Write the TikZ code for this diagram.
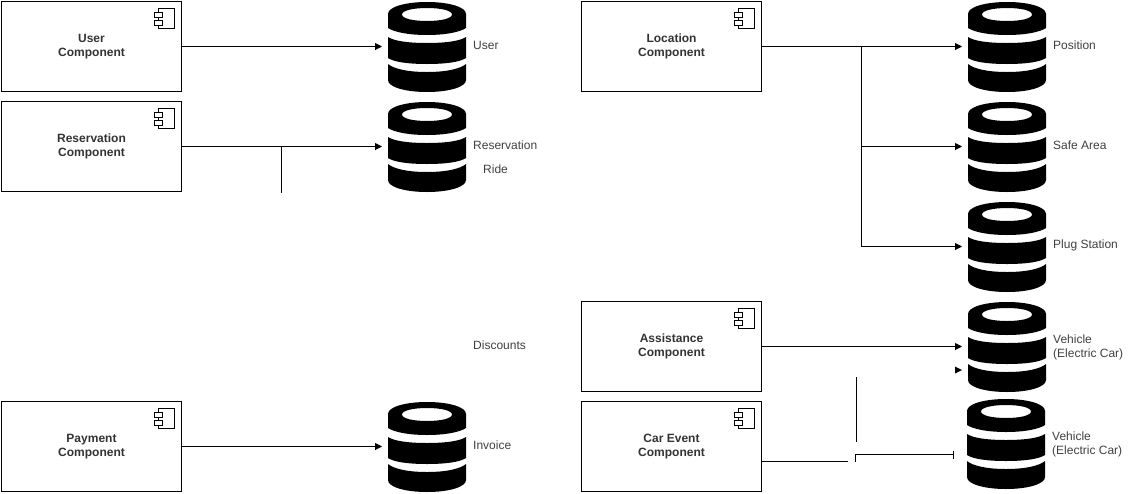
\documentclass[tikz,border=0pt]{standalone}
\usepackage{fontspec}
\setmainfont{Liberation Sans}
\usetikzlibrary{arrows.meta}
\tikzset{
  x=1pt,y=-1pt,
  compbox/.style={draw=black,line width=1pt,fill=white,minimum width=180pt,minimum height=90pt,inner sep=0pt,outer sep=0pt,
    font=\fontsize{12}{14}\selectfont\bfseries,text=black!80,align=center},
  dbtext/.style={font=\fontsize{12}{14}\selectfont,text=black!75,align=left,anchor=west,inner sep=0pt},
  conn/.style={line width=1pt,draw=black},
  arrowconn/.style={conn,-{Triangle[length=7pt,width=7pt]},shorten >=6pt},
  pics/dbicon/.style={code={
    \node[inner sep=0pt,outer sep=0pt,minimum width=78pt,minimum height=90pt] (-box) at (39,45) {};
    \fill[black,even odd rule] (0,12) .. controls (0,5) and (17,0) .. (39,0) .. controls (61,0) and (78,5) .. (78,12)
      -- (78,26) .. controls (72,30) and (58,33) .. (39,33) .. controls (20,33) and (6,30) .. (0,26) -- cycle
      (14,12.5) .. controls (14,8.5) and (25,6) .. (39,6) .. controls (53,6) and (64,8.5) .. (64,12.5)
      .. controls (64,16.5) and (53,19) .. (39,19) .. controls (25,19) and (14,16.5) .. (14,12.5) -- cycle;
    \fill[black] (0,35) .. controls (6,39) and (20,41) .. (39,41) .. controls (58,41) and (72,39) .. (78,35)
      -- (78,56) .. controls (72,60) and (58,62) .. (39,62) .. controls (20,62) and (6,60) .. (0,56) -- cycle;
    \fill[black] (0,62) .. controls (6,67) and (20,70) .. (39,70) .. controls (58,70) and (72,67) .. (78,62)
      -- (78,78) .. controls (78,85) and (61,90) .. (39,90) .. controls (17,90) and (0,85) .. (0,78) -- cycle;
  }},
  pics/compicon/.style={code={
    \draw[line width=1pt,fill=white] (4,0) rectangle (20.5,20);
    \draw[line width=1pt,fill=white] (0,3.5) rectangle (8,8.5);
    \draw[line width=1pt,fill=white] (0,11.5) rectangle (8,16.5);
  }}
}
\begin{document}
\begin{tikzpicture}
\useasboundingbox (0,0) rectangle (1143,493);
% component boxes
\node[compbox] (user) at (91.5,46.5) {User\\Component};
\node[compbox] (resv) at (91.5,146.5) {Reservation\\Component};
\node[compbox] (pay) at (91.5,446.5) {Payment\\Component};
\node[compbox] (loc) at (671.5,46.5) {Location\\Component};
\node[compbox] (assist) at (671.5,346.5) {Assistance\\Component};
\node[compbox] (carev) at (671.5,446.5) {Car Event\\Component};
\pic at (154,8.5) {compicon};
\pic at (154,108.5) {compicon};
\pic at (154,408.5) {compicon};
\pic at (734,8.5) {compicon};
\pic at (734,308.5) {compicon};
\pic at (734,408.5) {compicon};
% databases
\pic (dbuser) at (388,2) {dbicon};
\pic (dbresv) at (388,102) {dbicon};
\pic (dbinv) at (388,402) {dbicon};
\pic (dbpos) at (968,2) {dbicon};
\pic (dbsafe) at (968,102) {dbicon};
\pic (dbplug) at (968,202) {dbicon};
\pic (dbveh) at (968,302) {dbicon};
\pic (dbcar) at (967,399) {dbicon};
% labels
\node[dbtext] (tuser) at (473,45.5) {User};
\node[dbtext] (tresv) at (473,145.5) {Reservation};
\node[dbtext] (tride) at (483,169.5) {Ride};
\node[dbtext] (tdisc) at (473,345.5) {Discounts};
\node[dbtext] (tinv) at (473,445.5) {Invoice};
\node[dbtext] (tpos) at (1053,45.5) {Position};
\node[dbtext] (tsafe) at (1053,145.5) {Safe Area};
\node[dbtext] (tplug) at (1053,245.5) {Plug Station};
\node[dbtext] (tveh) at (1053,347.5) {Vehicle\\(Electric Car)};
\node[dbtext] (tcar) at (1052,444.5) {Vehicle\\(Electric Car)};
% connectors
\draw[arrowconn] (user.east) -- (user.east -| dbuser-box.west);
\draw[arrowconn] (resv.east) -- (resv.east -| dbresv-box.west);
\draw[arrowconn] (pay.east) -- (pay.east -| dbinv-box.west);
\draw[arrowconn] (loc.east) -- (loc.east -| dbpos-box.west);
\draw[arrowconn] (assist.east) -- (assist.east -| dbveh-box.west);
\coordinate (resvj) at (281.5,146.5);
\coordinate (resvend) at (281.5,193);
\draw[conn] (resvj) -- (resvend);
\coordinate (locj) at (861.5,46.5);
\coordinate (locj2) at (861.5,146.5);
\coordinate (locj3) at (861.5,246.5);
\draw[conn] (locj) -- (locj3);
\draw[arrowconn] (locj2) -- (locj2 -| dbsafe-box.west);
\draw[arrowconn] (locj3) -- (locj3 -| dbplug-box.west);
% fragments
\coordinate (fa) at (856.5,377);
\coordinate (fb) at (856.5,442);
\draw[conn] (fa) -- (fb);
\coordinate (fc) at (848,461.5);
\draw[conn] (carev.east |- fc) -- (fc);
\coordinate (fd) at (855.5,461.5);
\coordinate (fe) at (855.5,454.5);
\coordinate (ff) at (953,454.5);
\draw[conn] (fd) -- (fe) -- (ff);
\coordinate (fg) at (953,451);
\coordinate (fh) at (953,458.5);
\draw[conn] (fg) -- (fh);
\coordinate (ft) at (955,370);
\fill[black] (ft) ++(0,-3.5) -- ++(7,3.5) -- ++(-7,3.5) -- cycle;
\end{tikzpicture}
\end{document}
